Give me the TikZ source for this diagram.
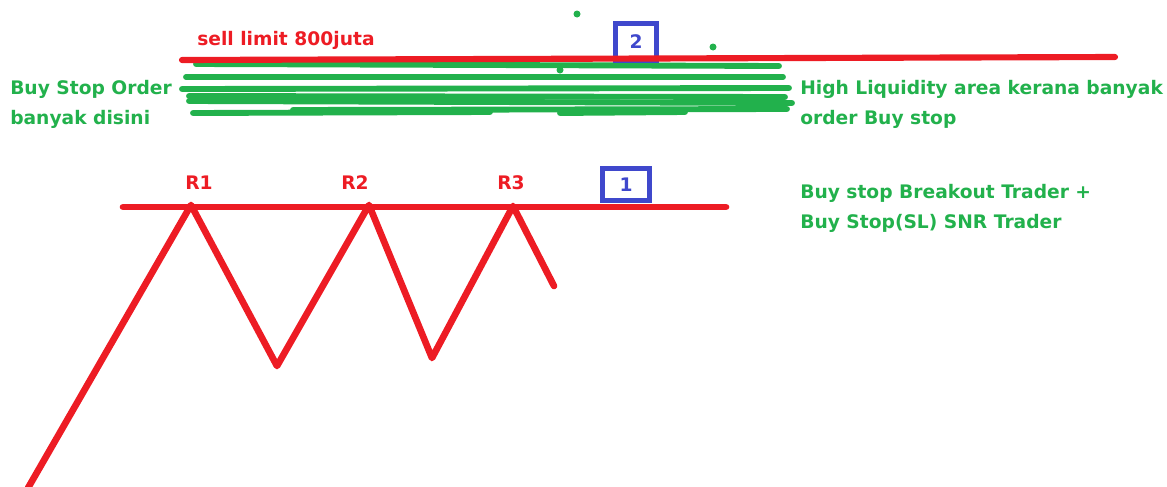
\documentclass[tikz,border=0pt]{standalone}
\usepackage{fontspec}
\setmainfont{DejaVu Sans}
\usetikzlibrary{positioning}
\definecolor{paintred}{RGB}{237,28,36}
\definecolor{paintgreen}{RGB}{34,177,76}
\definecolor{paintblue}{RGB}{63,72,204}

\begin{document}
\begin{tikzpicture}[x=0.75pt, y=-0.75pt,
    redline/.style={paintred, line width=5pt, line cap=round, line join=round},
    greenline/.style={paintgreen, line width=4.4pt, line cap=round},
    numbox/.style={draw=paintblue, line width=3.6pt, text=paintblue, font=\bfseries\fontsize{14}{17}\selectfont},
    note/.style={text=paintgreen, font=\bfseries\fontsize{14}{22.5}\selectfont, align=left, inner sep=0pt},
    rlabel/.style={text=paintred, font=\bfseries\fontsize{14}{17}\selectfont, inner sep=0pt}]
    \useasboundingbox (0,0) rectangle (1167,486);

    % liquidity scribble above the sell limit
    \draw[greenline] (196,64) -- (779,66);
    \draw[greenline] (186,77) -- (783,77);
    \draw[greenline] (182,89) -- (789,88);
    \draw[greenline] (189,96) -- (785,97);
    \draw[greenline] (189,101) -- (792,103);
    \draw[greenline] (193,113) -- (490,112);
    \draw[greenline] (293,110) -- (787,109);
    \draw[greenline] (560,113) -- (685,112);
    \fill[paintgreen] (577,14) circle (3.5) (713,47) circle (3.5) (560,70) circle (3.5);

    \node[numbox, minimum width=31pt, minimum height=27.5pt] (box2) at (636,42) {2};
    \coordinate (sellwest) at (182,60);
    \coordinate (selleast) at (1115,57);
    \draw[redline, line width=4.6pt] (sellwest) -- (selleast);
    \node[rlabel, anchor=base west] (selllabel) at (197,45) {sell limit 800juta};

    \node[note, anchor=north west] (leftnote) at (10,80) {Buy Stop Order\\banyak disini};
    \node[note, anchor=north west] (liqnote) at (800,80) {High Liquidity area kerana banyak\\order Buy stop};
    \node[note, anchor=north west] (breaknote) at (800,184) {Buy stop Breakout Trader +\\Buy Stop(SL) SNR Trader};

    % resistance and price swing
    \coordinate (reswest) at (123,207);
    \coordinate (reseast) at (726,207);
    \draw[redline] (reswest) -- (reseast);
    \coordinate (start) at (28,488);
    \coordinate (r1) at (191,205);
    \coordinate (v1) at (277,366);
    \coordinate (r2) at (369,205);
    \coordinate (v2) at (432,358);
    \coordinate (r3) at (513,206);
    \coordinate (tail) at (554,286);
    \draw[redline] (start) -- (r1) -- (v1) -- (r2) -- (v2) -- (r3) -- (tail);

    \node[rlabel] (r1label) at (199,183) {R1};
    \node[rlabel] (r2label) at (355,183) {R2};
    \node[rlabel] (r3label) at (511,183) {R3};
    \node[numbox, minimum width=35.5pt, minimum height=24pt] (box1) at (626,184.5) {1};
\end{tikzpicture}
\end{document}
